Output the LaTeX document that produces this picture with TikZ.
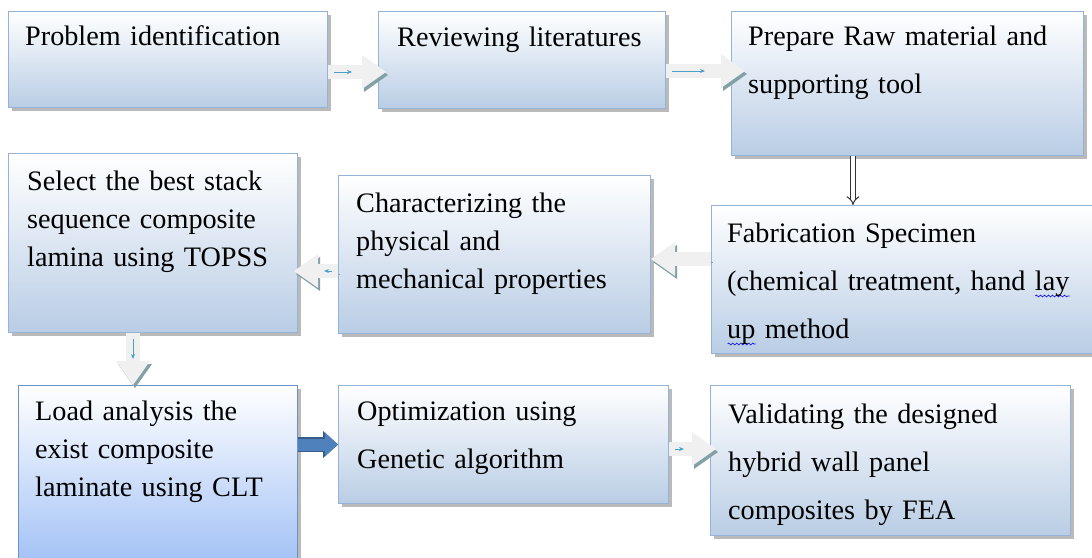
\documentclass[tikz,border=0pt]{standalone}
\usepackage{fontspec}
\setmainfont{Liberation Serif}
\usetikzlibrary{arrows.meta,shadows,decorations.pathmorphing}

\definecolor{boxline}{RGB}{149,179,215}
\definecolor{boxfill}{RGB}{185,205,229}
\definecolor{loadline}{RGB}{110,145,200}
\definecolor{loadfill}{RGB}{160,192,245}
\definecolor{arrowbody}{RGB}{240,240,240}
\definecolor{arrowedge}{RGB}{130,160,165}
\definecolor{arrowcore}{RGB}{75,160,200}
\definecolor{boldfill}{RGB}{79,129,189}
\definecolor{boldedge}{RGB}{56,93,138}

\newsavebox\wavebox
\newcommand\spellwave[1]{\leavevmode\sbox\wavebox{#1}\rlap{\tikz[baseline=0pt, x=1pt, y=1pt]
  \draw[blue, line width=.6pt, decorate, decoration={snake, amplitude=.9pt, segment length=4pt}]
  (0,-6) -- (\wd\wavebox,-6);}\usebox\wavebox}

\tikzset{
  stage/.style={draw=boxline, line width=1pt, top color=white, bottom color=boxfill,
    anchor=north west, inner sep=0pt,
    drop shadow={shadow xshift=3pt, shadow yshift=-3pt, opacity=.45, fill=black!60}},
  stagetext/.style={anchor=base west, inner sep=0pt, text width=420pt, align=left,
    font=\fontsize{28.2}{38}\selectfont},
  loose/.style={font=\fontsize{28.2}{48}\selectfont},
  flow/.style={line width=14pt, draw=arrowbody,
    -{Triangle[length=24pt, width=34pt, line width=0pt]},
    preaction={draw=arrowedge, transform canvas={shift={(2pt,-3pt)}}}},
  cored/.style={postaction={draw=arrowcore, line width=.8pt,
    -{Stealth[length=5pt, width=4pt]}, shorten <=6pt, shorten >=26pt}},
  boldflow/.style={line width=12pt, draw=boldfill,
    -{Triangle[length=13pt, width=24pt, line width=0pt]},
    preaction={draw=boldedge, line width=14.5pt,
      -{Triangle[length=15pt, width=27pt, line width=0pt]}}},
  thinflow/.style={draw=black!80, double=white, double distance=3.5pt,
    line width=1pt, -{Implies}}
}

\begin{document}
\begin{tikzpicture}[x=1pt, y=-1pt]
  \useasboundingbox (0,0) rectangle (1092,557);

  \node[stage, minimum width=319pt, minimum height=96pt]  (ident)   at (8,11)    {};
  \node[stage, minimum width=287pt, minimum height=97pt]  (review)  at (378,11)  {};
  \node[stage, minimum width=352pt, minimum height=144pt] (prepare) at (731,11)  {};
  \node[stage, minimum width=392pt, minimum height=148pt] (fabric)  at (711,205) {};
  \node[stage, minimum width=312pt, minimum height=158pt] (charact) at (338,175) {};
  \node[stage, minimum width=289pt, minimum height=179pt] (select)  at (8,153)   {};
  \node[stage, draw=loadline, bottom color=loadfill,
        minimum width=279pt, minimum height=182pt]        (load)    at (18,385)  {};
  \node[stage, minimum width=330pt, minimum height=118pt] (optim)   at (338,385) {};
  \node[stage, minimum width=360pt, minimum height=150pt] (valid)   at (710,385) {};

  \node[stagetext] (identtext)   at ([shift={(17,34)}]ident.north west)   {Problem identification};
  \node[stagetext] (reviewtext)  at ([shift={(19,35)}]review.north west)  {Reviewing literatures};
  \node[stagetext, loose] (preparetext) at ([shift={(17,34)}]prepare.north west)
    {Prepare Raw material and\\supporting tool};
  \node[stagetext, loose] (fabrictext)  at ([shift={(16,37)}]fabric.north west)
    {Fabrication Specimen\\(chemical treatment, hand \spellwave{lay}\\\spellwave{up} method};
  \node[stagetext] (characttext) at ([shift={(18,37)}]charact.north west)
    {Characterizing the\\physical and\\mechanical properties};
  \node[stagetext] (selecttext)  at ([shift={(19,37)}]select.north west)
    {Select the best stack\\\makebox[226pt][s]{sequence composite}\\lamina using TOPSS};
  \node[stagetext] (loadtext)    at ([shift={(17,35)}]load.north west)
    {Load analysis the\\exist composite\\laminate using CLT};
  \node[stagetext, loose] (optimtext)   at ([shift={(19,35)}]optim.north west)
    {Optimization using\\Genetic algorithm};
  \node[stagetext, loose] (validtext)   at ([shift={(18,38)}]valid.north west)
    {Validating the designed\\hybrid wall panel\\composites by FEA};

  \coordinate (row12) at (0,72);
  \coordinate (row23) at (0,71);
  \coordinate (row45) at (0,259);
  \coordinate (row56) at (0,271);
  \coordinate (row89) at (0,449);
  \coordinate (col34) at (853,0);
  \coordinate (col67) at (133,0);

  \draw[flow, cored, shorten >=-8pt]  (ident.east |- row12) -- (review.west |- row12);
  \draw[flow, cored, shorten >=-14pt] (review.east |- row23) -- (prepare.west |- row23);
  \draw[thinflow]                     (prepare.south -| col34) -- (fabric.north -| col34);
  \draw[flow]                         (fabric.west |- row45) -- (charact.east |- row45);
  \draw[flow, cored, shorten >=-4pt]  (charact.west |- row56) -- (select.east |- row56);
  \draw[flow, cored]                  (select.south -| col67) -- (load.north -| col67);
  \draw[boldflow]                     (load.east |- optim.west) -- (optim.west);
  \draw[flow, cored, shorten >=-6pt]  (optim.east |- row89) -- (valid.west |- row89);
\end{tikzpicture}
\end{document}
